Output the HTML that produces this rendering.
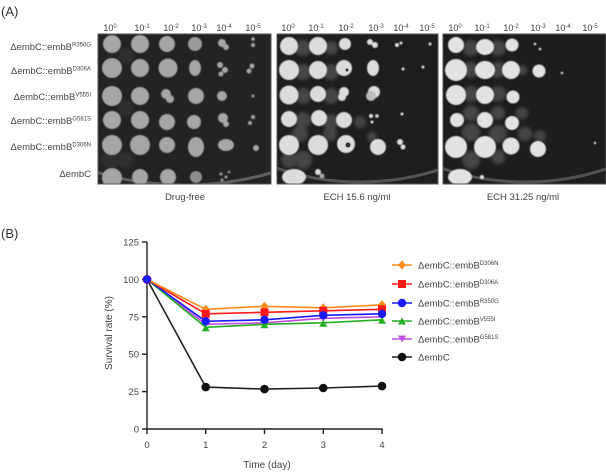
<!DOCTYPE html>
<html><head><meta charset="utf-8"><style>
html,body{margin:0;padding:0;background:#fff;}
svg{display:block;}
text{font-family:"Liberation Sans",sans-serif;}
</style></head><body>
<svg width="606" height="472" viewBox="0 0 606 472" xmlns="http://www.w3.org/2000/svg">
<defs>
<filter id="bl" x="-20%" y="-20%" width="140%" height="140%"><feGaussianBlur stdDeviation="0.6"/></filter>
<filter id="bl2" x="-50%" y="-50%" width="200%" height="200%"><feGaussianBlur stdDeviation="1.5"/></filter>
<clipPath id="c1"><rect x="98" y="34" width="173" height="150"/></clipPath>
<clipPath id="c2"><rect x="277" y="34" width="161" height="150"/></clipPath>
<clipPath id="c3"><rect x="443" y="34" width="163" height="150"/></clipPath>
</defs>

<!-- Panel labels -->
<text x="1" y="16" font-size="13" fill="#333">(A)</text>
<text x="1" y="238" font-size="13" fill="#333">(B)</text>

<!-- Column headers -->
<g font-size="9" fill="#444" text-anchor="middle">
<text x="110" y="31">10<tspan font-size="6" dy="-3">0</tspan></text>
<text x="142" y="31">10<tspan font-size="6" dy="-3">-1</tspan></text>
<text x="171" y="31">10<tspan font-size="6" dy="-3">-2</tspan></text>
<text x="199" y="31">10<tspan font-size="6" dy="-3">-3</tspan></text>
<text x="224" y="31">10<tspan font-size="6" dy="-3">-4</tspan></text>
<text x="253" y="31">10<tspan font-size="6" dy="-3">-5</tspan></text>

<text x="288" y="31">10<tspan font-size="6" dy="-3">0</tspan></text>
<text x="316" y="31">10<tspan font-size="6" dy="-3">-1</tspan></text>
<text x="346" y="31">10<tspan font-size="6" dy="-3">-2</tspan></text>
<text x="376" y="31">10<tspan font-size="6" dy="-3">-3</tspan></text>
<text x="401" y="31">10<tspan font-size="6" dy="-3">-4</tspan></text>
<text x="427" y="31">10<tspan font-size="6" dy="-3">-5</tspan></text>

<text x="455" y="31">10<tspan font-size="6" dy="-3">0</tspan></text>
<text x="482" y="31">10<tspan font-size="6" dy="-3">-1</tspan></text>
<text x="511" y="31">10<tspan font-size="6" dy="-3">-2</tspan></text>
<text x="538" y="31">10<tspan font-size="6" dy="-3">-3</tspan></text>
<text x="563" y="31">10<tspan font-size="6" dy="-3">-4</tspan></text>
<text x="590" y="31">10<tspan font-size="6" dy="-3">-5</tspan></text>
</g>

<!-- Row labels -->
<g font-size="9.5" fill="#444" text-anchor="end">
<text x="91" y="50">ΔembC::embB<tspan font-size="6" dy="-3.5">R350G</tspan></text>
<text x="91" y="74">ΔembC::embB<tspan font-size="6" dy="-3.5">D306A</tspan></text>
<text x="91" y="100">ΔembC::embB<tspan font-size="6" dy="-3.5">V555I</tspan></text>
<text x="91" y="124">ΔembC::embB<tspan font-size="6" dy="-3.5">G581S</tspan></text>
<text x="91" y="150">ΔembC::embB<tspan font-size="6" dy="-3.5">D306N</tspan></text>
<text x="91" y="177">ΔembC</text>
</g>

<!-- Plate 1 -->
<g clip-path="url(#c1)">
<rect x="98" y="34" width="173" height="150" fill="#232323"/>
<ellipse cx="185" cy="60" rx="200" ry="125" fill="none" stroke="#888" stroke-width="3" opacity="0.6" transform="translate(0,0)"/>
<g fill="#2f2f2f" filter="url(#bl2)">
<circle cx="126" cy="56" r="8"/><circle cx="126" cy="108" r="8"/><circle cx="126" cy="160" r="8"/><circle cx="110" cy="160" r="9"/>
</g>
<g fill="#a6a6a6" filter="url(#bl)">
<circle cx="112" cy="44" r="9"/><circle cx="140" cy="44" r="9"/><circle cx="167" cy="44" r="8"/>
<circle cx="195" cy="44" r="7" fill="#9a9a9a"/><circle cx="222" cy="43" r="4"/><circle cx="226" cy="47" r="3"/><circle cx="253" cy="39" r="1.8"/><circle cx="253" cy="45" r="2"/>
<circle cx="112" cy="68" r="10"/><circle cx="140" cy="68" r="9"/><circle cx="168" cy="68" r="9.5"/>
<ellipse cx="195" cy="68" rx="6" ry="8"/><circle cx="220" cy="65" r="3"/><circle cx="225" cy="70" r="3"/><circle cx="221" cy="74" r="2.5"/><circle cx="252" cy="66" r="2.5"/><circle cx="249" cy="71" r="2.5"/>
<circle cx="112" cy="96" r="10"/><circle cx="140" cy="96" r="9"/><circle cx="166" cy="94" r="5"/><circle cx="170" cy="99" r="4"/>
<circle cx="196" cy="96" r="8"/><circle cx="222" cy="96" r="5"/><circle cx="253" cy="96" r="1.5"/>
<circle cx="112" cy="120" r="9"/><circle cx="140" cy="120" r="9"/><circle cx="167" cy="122" r="8"/><circle cx="194" cy="122" r="7"/>
<circle cx="223" cy="118" r="5"/><circle cx="226" cy="124" r="3"/><circle cx="253" cy="117" r="2"/><circle cx="250" cy="123" r="2"/>
<circle cx="112" cy="145" r="10"/><circle cx="140" cy="145" r="10"/><circle cx="167" cy="145" r="8"/>
<ellipse cx="196" cy="147" rx="8" ry="10"/><ellipse cx="226" cy="145" rx="8" ry="6"/><circle cx="256" cy="148" r="3"/>
<circle cx="112" cy="178" r="10"/><circle cx="140" cy="177" r="8"/><circle cx="168" cy="177" r="8"/><circle cx="196" cy="177" r="6" fill="#8e8e8e"/>
<circle cx="221" cy="174" r="1.5"/><circle cx="226" cy="177" r="1.5"/><circle cx="222" cy="180" r="1.5"/><circle cx="229" cy="172" r="1.3"/>
</g>
</g>
<rect x="98" y="34" width="173" height="150" fill="none" stroke="#555" stroke-width="1"/>

<!-- Plate 2 -->
<g clip-path="url(#c2)">
<rect x="277" y="34" width="161" height="150" fill="#1e1e1e"/>
<ellipse cx="360" cy="60" rx="180" ry="122" fill="none" stroke="#777" stroke-width="3" opacity="0.6"/>
<g fill="#444" filter="url(#bl2)">
<circle cx="303" cy="48" r="8"/><circle cx="331" cy="48" r="7"/><circle cx="303" cy="72" r="8"/><circle cx="331" cy="72" r="8"/>
<circle cx="303" cy="96" r="8"/><circle cx="331" cy="96" r="8"/><circle cx="303" cy="120" r="8"/><circle cx="331" cy="122" r="8"/>
<circle cx="300" cy="134" r="8"/><circle cx="330" cy="134" r="7"/><circle cx="303" cy="160" r="9"/><circle cx="289" cy="160" r="8"/>
<circle cx="360" cy="122" r="6"/><circle cx="372" cy="137" r="5"/>
</g>
<g fill="#dcdcdc" filter="url(#bl)">
<circle cx="289" cy="46" r="9"/><circle cx="318" cy="46" r="9"/><circle cx="345" cy="44" r="6"/><circle cx="370" cy="42" r="3"/><circle cx="375" cy="45" r="3"/>
<circle cx="397" cy="45" r="2"/><circle cx="401" cy="43" r="1.5"/><circle cx="430" cy="44" r="1.5"/>
<circle cx="289" cy="70" r="10"/><circle cx="318" cy="70" r="9"/><circle cx="344" cy="68" r="8"/><ellipse cx="373" cy="68" rx="6" ry="8"/>
<circle cx="403" cy="69" r="1.5"/><circle cx="423" cy="67" r="1.5"/>
<circle cx="289" cy="95" r="9.5"/><circle cx="318" cy="94" r="8"/><circle cx="344" cy="92" r="5"/><circle cx="342" cy="97" r="4"/>
<circle cx="374" cy="92" r="6"/><circle cx="371" cy="96" r="5" fill="#bbb"/>
<circle cx="289" cy="119" r="8"/><circle cx="319" cy="118" r="8"/><circle cx="344" cy="120" r="8"/>
<circle cx="371" cy="116" r="2"/><circle cx="377" cy="116" r="1.8"/><circle cx="372" cy="122" r="1.5"/><circle cx="402" cy="114" r="1.5"/>
<circle cx="289" cy="145" r="10"/><circle cx="318" cy="145" r="10"/><circle cx="346" cy="144" r="9"/><circle cx="378" cy="147" r="8"/>
<circle cx="400" cy="142" r="3"/><circle cx="403" cy="147" r="2.5"/>
<ellipse cx="294" cy="177" rx="12" ry="8"/><circle cx="318" cy="172" r="3"/><circle cx="322" cy="176" r="2.5" fill="#aaa"/>
</g>
<g fill="#333"><circle cx="348" cy="145" r="2.5"/><circle cx="347" cy="70" r="1.5"/></g>
</g>
<rect x="277" y="34" width="161" height="150" fill="none" stroke="#555" stroke-width="1"/>

<!-- Plate 3 -->
<g clip-path="url(#c3)">
<rect x="443" y="34" width="163" height="150" fill="#1d1d1d"/>
<ellipse cx="525" cy="60" rx="180" ry="122" fill="none" stroke="#777" stroke-width="3" opacity="0.6"/>
<g fill="#454545" filter="url(#bl2)">
<circle cx="471" cy="48" r="8"/><circle cx="498" cy="48" r="8"/><circle cx="471" cy="70" r="8"/><circle cx="498" cy="70" r="8"/>
<circle cx="471" cy="94" r="8"/><circle cx="498" cy="94" r="8"/><circle cx="471" cy="113" r="8"/><circle cx="498" cy="113" r="7"/>
<circle cx="522" cy="113" r="6"/><circle cx="471" cy="132" r="9"/><circle cx="498" cy="134" r="9"/><circle cx="525" cy="134" r="7"/>
<circle cx="540" cy="136" r="6"/><circle cx="471" cy="160" r="9"/><circle cx="498" cy="157" r="7"/><circle cx="522" cy="70" r="5"/>
</g>
<g fill="#e2e2e2" filter="url(#bl)">
<circle cx="456" cy="45" r="8"/><ellipse cx="485" cy="47" rx="9" ry="8"/><circle cx="512" cy="45" r="6.5"/>
<circle cx="535" cy="44" r="1.3"/><circle cx="540" cy="49" r="1.3"/>
<circle cx="456" cy="70" r="11"/><ellipse cx="485" cy="70" rx="10" ry="9"/><circle cx="511" cy="70" r="9"/><circle cx="539" cy="71" r="6.5"/>
<circle cx="562" cy="73" r="1.2"/>
<circle cx="456" cy="95" r="10"/><circle cx="485" cy="95" r="9"/><circle cx="513" cy="97" r="6.5"/>
<circle cx="457" cy="120" r="7"/><circle cx="485" cy="120" r="8"/><circle cx="512" cy="123" r="7"/>
<circle cx="456" cy="147" r="11"/><circle cx="485" cy="147" r="11"/><circle cx="511" cy="146" r="8.5"/><circle cx="538" cy="149" r="8"/>
<circle cx="595" cy="143" r="1.2"/>
<ellipse cx="460" cy="177" rx="12" ry="8"/><circle cx="482" cy="177" r="2"/>
</g>
</g>
<rect x="443" y="34" width="163" height="150" fill="none" stroke="#555" stroke-width="1"/>

<!-- Plate captions -->
<g font-size="9.5" fill="#444" text-anchor="middle">
<text x="185" y="200">Drug-free</text>
<text x="357" y="200">ECH 15.6 ng/ml</text>
<text x="523" y="200">ECH 31.25 ng/ml</text>
</g>

<!-- Chart axes -->
<g stroke="#222" stroke-width="1.4" fill="none">
<line x1="147" y1="242" x2="147" y2="429.7"/>
<line x1="146.3" y1="429" x2="382.7" y2="429"/>
<line x1="142" y1="242" x2="147" y2="242"/>
<line x1="142" y1="279.4" x2="147" y2="279.4"/>
<line x1="142" y1="316.8" x2="147" y2="316.8"/>
<line x1="142" y1="354.2" x2="147" y2="354.2"/>
<line x1="142" y1="391.6" x2="147" y2="391.6"/>
<line x1="142" y1="429" x2="147" y2="429"/>
<line x1="147" y1="429" x2="147" y2="434"/>
<line x1="205.75" y1="429" x2="205.75" y2="434"/>
<line x1="264.5" y1="429" x2="264.5" y2="434"/>
<line x1="323.25" y1="429" x2="323.25" y2="434"/>
<line x1="382" y1="429" x2="382" y2="434"/>
</g>
<g font-size="9.5" fill="#444" text-anchor="end">
<text x="139" y="245.5">125</text>
<text x="139" y="282.9">100</text>
<text x="139" y="320.3">75</text>
<text x="139" y="357.7">50</text>
<text x="139" y="395.1">25</text>
<text x="139" y="432.5">0</text>
</g>
<g font-size="9.5" fill="#444" text-anchor="middle">
<text x="147" y="448">0</text>
<text x="205.75" y="448">1</text>
<text x="264.5" y="448">2</text>
<text x="323.25" y="448">3</text>
<text x="382" y="448">4</text>
<text x="267" y="468" font-size="10">Time (day)</text>
<text transform="translate(112,333) rotate(-90)" font-size="10">Survival rate (%)</text>
</g>

<!-- Series -->
<g fill="none" stroke-width="1.6">
<polyline stroke="#222" points="147,279.4 205.75,387.1 264.5,389.1 323.25,388.0 382,386.1"/>
<polyline stroke="#c04fe0" points="147,279.4 205.75,324.3 264.5,322.8 323.25,318.3 382,316.8"/>
<polyline stroke="#22b022" points="147,279.4 205.75,327.3 264.5,324.3 323.25,322.8 382,319.8"/>
<polyline stroke="#1a1aff" points="147,279.4 205.75,321.3 264.5,319.8 323.25,315.3 382,313.8"/>
<polyline stroke="#ff1a1a" points="147,279.4 205.75,313.8 264.5,312.3 323.25,310.8 382,309.3"/>
<polyline stroke="#ff8c1a" points="147,279.4 205.75,309.3 264.5,306.3 323.25,307.8 382,304.8"/>
</g>
<!-- markers -->
<g fill="#111">
<circle cx="147" cy="279.4" r="4.3"/><circle cx="205.75" cy="387.1" r="4.3"/><circle cx="264.5" cy="389.1" r="4.3"/><circle cx="323.25" cy="388.0" r="4.3"/><circle cx="382" cy="386.1" r="4.3"/>
</g>
<g fill="#c04fe0">
<path d="M201.75,320.8 h8 l-4,7 z"/><path d="M260.5,319.3 h8 l-4,7 z"/><path d="M319.25,314.8 h8 l-4,7 z"/><path d="M378,313.3 h8 l-4,7 z"/>
</g>
<g fill="#22b022">
<path d="M201.75,331.3 h8 l-4,-7 z"/><path d="M260.5,328.3 h8 l-4,-7 z"/><path d="M319.25,326.8 h8 l-4,-7 z"/><path d="M378,323.8 h8 l-4,-7 z"/>
</g>
<g fill="#ff8c1a">
<path d="M205.75,304.8 l4,4.5 l-4,4.5 l-4,-4.5 z"/><path d="M264.5,301.8 l4,4.5 l-4,4.5 l-4,-4.5 z"/><path d="M323.25,303.3 l4,4.5 l-4,4.5 l-4,-4.5 z"/><path d="M382,300.3 l4,4.5 l-4,4.5 l-4,-4.5 z"/>
</g>
<g fill="#ff1a1a">
<rect x="201.75" y="309.8" width="8" height="8"/><rect x="260.5" y="308.3" width="8" height="8"/><rect x="319.25" y="306.8" width="8" height="8"/><rect x="378" y="305.3" width="8" height="8"/>
<circle cx="147" cy="279.4" r="4.5"/>
</g>
<g fill="#1a1aff">
<circle cx="205.75" cy="321.3" r="4.2"/><circle cx="264.5" cy="319.8" r="4.2"/><circle cx="323.25" cy="315.3" r="4.2"/><circle cx="382" cy="313.8" r="4.2"/>
<circle cx="147" cy="279.4" r="4.2"/>
</g>

<!-- Legend -->
<g stroke-width="1.6">
<line x1="392" y1="265" x2="412" y2="265" stroke="#ff8c1a"/>
<line x1="392" y1="284" x2="412" y2="284" stroke="#ff1a1a"/>
<line x1="392" y1="303" x2="412" y2="303" stroke="#1a1aff"/>
<line x1="392" y1="321" x2="412" y2="321" stroke="#22b022"/>
<line x1="392" y1="339" x2="412" y2="339" stroke="#c04fe0"/>
<line x1="392" y1="357" x2="412" y2="357" stroke="#222"/>
</g>
<path d="M402,260.5 l4,4.5 l-4,4.5 l-4,-4.5 z" fill="#ff8c1a"/>
<rect x="398" y="280" width="8" height="8" fill="#ff1a1a"/>
<circle cx="402" cy="303" r="4.2" fill="#1a1aff"/>
<path d="M398,324.5 h8 l-4,-7 z" fill="#22b022"/>
<path d="M398,335.5 h8 l-4,7 z" fill="#c04fe0"/>
<circle cx="402" cy="357" r="4.3" fill="#111"/>
<g font-size="9.5" fill="#444">
<text x="418" y="268.5">ΔembC::embB<tspan font-size="6" dy="-3.5">D306N</tspan></text>
<text x="418" y="287.5">ΔembC::embB<tspan font-size="6" dy="-3.5">D306A</tspan></text>
<text x="418" y="306.5">ΔembC::embB<tspan font-size="6" dy="-3.5">R350G</tspan></text>
<text x="418" y="324.5">ΔembC::embB<tspan font-size="6" dy="-3.5">V555I</tspan></text>
<text x="418" y="342.5">ΔembC::embB<tspan font-size="6" dy="-3.5">G581S</tspan></text>
<text x="418" y="360.5">ΔembC</text>
</g>
</svg>
</body></html>
